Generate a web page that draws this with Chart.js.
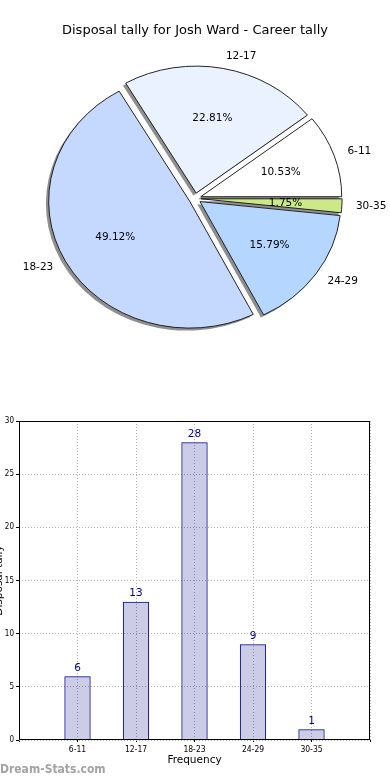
<!DOCTYPE html>
<html>
<head>
<meta charset="utf-8">
<script src="https://cdn.jsdelivr.net/npm/chart.js@4.4.0/dist/chart.umd.min.js"></script>
<style>
  body { margin: 0; background: #fff; width: 390px; height: 780px; position: relative; overflow: hidden; }
  #pieWrap { position: absolute; left: 0; top: 0; width: 390px; height: 397px; }
  #barWrap { position: absolute; left: 0; top: 400px; width: 390px; height: 380px; }
  #mark { position: absolute; left: 0; top: 762px; font: bold 12px 'DejaVu Sans Condensed', 'DejaVu Sans', sans-serif; color: #a3a3a3; }
</style>
</head>
<body>
<div id="pieWrap"><canvas id="pie"></canvas></div>
<div id="barWrap"><canvas id="bar"></canvas></div>
<div id="mark">Dream-Stats.com</div>
<script>
const categories = ['6-11', '12-17', '18-23', '24-29', '30-35'];
const tally = [6, 13, 28, 9, 1];
const pieColors = ['#ffffff', '#eaf1ff', '#c5d9ff', '#b4d6ff', '#cce98a'];
const yTicks = [0, 5, 10, 15, 20, 25, 30];

const total = tally.reduce((a, b) => a + b, 0);
const percents = tally.map(v => (v / total * 100).toFixed(2) + '%');

// matplotlib goes counter-clockwise from 3 o'clock, chart.js goes clockwise,
// so feed the slices backwards
const rev = a => a.slice().reverse();

const EXPLODE = 5.5;   // px
const SX = 1.11;       // the pie is an ellipse in the reference
const FONT = "'DejaVu Sans', sans-serif";

const piePlugin = {
  id: 'pieStuff',
  beforeDatasetsDraw(chart) {
    const ctx = chart.ctx;
    const a = chart.chartArea;
    const cx = (a.left + a.right) / 2, cy = (a.top + a.bottom) / 2;
    ctx.save();
    ctx.translate(cx, cy);
    ctx.scale(SX, 1);
    ctx.translate(-cx, -cy);
    const meta = chart.getDatasetMeta(0);
    // shadows first, under every wedge
    meta.data.forEach(arc => {
      const mid = (arc.startAngle + arc.endAngle) / 2;
      const ox = arc.x + Math.cos(mid) * EXPLODE - 2.5;
      const oy = arc.y + Math.sin(mid) * EXPLODE + 2.5;
      ctx.beginPath();
      ctx.moveTo(ox, oy);
      ctx.arc(ox, oy, arc.outerRadius, arc.startAngle, arc.endAngle);
      ctx.closePath();
      ctx.fillStyle = '#8f8f8f';
      ctx.fill();
      if (!arc._exploded) {
        const base = arc.draw;
        arc.draw = function (c) {
          const m = (this.startAngle + this.endAngle) / 2;
          c.save();
          c.translate(Math.cos(m) * EXPLODE, Math.sin(m) * EXPLODE);
          base.call(this, c);
          c.restore();
        };
        arc._exploded = true;
      }
    });
  },
  afterDatasetsDraw(chart) {
    const ctx = chart.ctx;
    ctx.restore();
    const a = chart.chartArea;
    const cx = (a.left + a.right) / 2;
    const meta = chart.getDatasetMeta(0);
    const labels = chart.data.labels;
    const pcts = rev(percents);
    ctx.save();
    ctx.fillStyle = '#000';
    ctx.textBaseline = 'middle';
    ctx.font = '10.5px ' + FONT;
    meta.data.forEach((arc, i) => {
      const mid = (arc.startAngle + arc.endAngle) / 2;
      const r = arc.outerRadius;
      let d = EXPLODE + 0.6 * r;
      let x = arc.x + Math.cos(mid) * d, y = arc.y + Math.sin(mid) * d;
      ctx.textAlign = 'center';
      ctx.fillText(pcts[i], cx + (x - cx) * SX, y);
      d = EXPLODE + 1.1 * r;
      x = arc.x + Math.cos(mid) * d; y = arc.y + Math.sin(mid) * d;
      ctx.textAlign = Math.cos(mid) >= 0 ? 'left' : 'right';
      ctx.fillText(labels[i], cx + (x - cx) * SX, y);
    });
    ctx.font = '13px ' + FONT;
    ctx.textAlign = 'center';
    ctx.fillText('Disposal tally for Josh Ward - Career tally', 195, 30.5);
    ctx.restore();
  }
};

new Chart(document.getElementById('pie'), {
  type: 'pie',
  data: {
    labels: rev(categories),
    datasets: [{
      data: rev(tally),
      backgroundColor: rev(pieColors),
      borderColor: '#1a1a1a',
      borderWidth: 0.9,
      clip: false,
      hoverOffset: 0
    }]
  },
  options: {
    responsive: true,
    maintainAspectRatio: false,
    animation: false,
    events: [],
    rotation: 90,
    radius: 127,
    layout: { padding: 0 },
    plugins: { legend: { display: false }, tooltip: { enabled: false } }
  },
  plugins: [piePlugin]
});

const barPlugin = {
  id: 'barStuff',
  afterDatasetsDraw(chart) {
    const ctx = chart.ctx;
    const meta = chart.getDatasetMeta(0);
    ctx.save();
    ctx.fillStyle = '#00008b';
    ctx.font = '10.5px ' + FONT;
    ctx.textAlign = 'center';
    ctx.textBaseline = 'alphabetic';
    meta.data.forEach((bar, i) => {
      ctx.fillText(String(tally[i]), bar.x, bar.y - 5.5);
    });
    ctx.restore();
  },
  afterDraw(chart) {
    const ctx = chart.ctx;
    const a = chart.chartArea;
    ctx.save();
    ctx.strokeStyle = '#000';
    ctx.lineWidth = 1;
    ctx.strokeRect(Math.round(a.left) + 0.5, Math.round(a.top) + 0.5,
      Math.round(a.right - a.left) - 1, Math.round(a.bottom - a.top) - 1);
    ctx.fillStyle = '#000';
    ctx.font = '10.5px ' + FONT;
    ctx.textAlign = 'center';
    ctx.textBaseline = 'middle';
    ctx.fillText('Frequency', (a.left + a.right) / 2, 360);
    // y title is mostly cut off at the left edge in the reference
    ctx.translate(2, (a.top + a.bottom) / 2);
    ctx.rotate(-Math.PI / 2);
    ctx.textBaseline = 'alphabetic';
    ctx.fillText('Disposal tally', 0, 0);
    ctx.restore();
  }
};

const tickFont = { family: "'DejaVu Sans Condensed', 'DejaVu Sans', sans-serif" };

new Chart(document.getElementById('bar'), {
  type: 'bar',
  data: {
    datasets: [{
      data: tally.map((v, i) => ({ x: i, y: v })),
      backgroundColor: 'rgba(0, 0, 128, 0.2)',
      borderColor: '#00008b',
      borderWidth: 1,
      barPercentage: 0.45,
      categoryPercentage: 1
    }]
  },
  options: {
    responsive: true,
    maintainAspectRatio: false,
    animation: false,
    events: [],
    layout: { padding: { top: 21, right: 20, left: 0, bottom: 0 } },
    plugins: { legend: { display: false }, tooltip: { enabled: false } },
    scales: {
      x: {
        type: 'linear',
        min: -1,
        max: 5,
        offset: false,
        afterFit: s => { s.height = 40; },
        ticks: {
          stepSize: 1,
          autoSkip: false,
          maxRotation: 0,
          padding: 3,
          color: '#000',
          font: { ...tickFont, size: 8.5 },
          callback: v => categories[v] ?? ''
        },
        grid: { offset: false, color: '#b0b0b0', drawTicks: true, tickLength: 2, tickColor: '#000', tickBorderDash: [] },
        border: { display: false, dash: [1, 2] }
      },
      y: {
        min: 0,
        max: 30,
        afterFit: s => { s.width = 19; },
        afterBuildTicks: s => { s.ticks = yTicks.map(v => ({ value: v })); },
        ticks: {
          padding: 2,
          color: '#000',
          font: { ...tickFont, size: 8 }
        },
        grid: { color: '#b0b0b0', drawTicks: true, tickLength: 3, tickColor: '#000', tickBorderDash: [] },
        border: { display: false, dash: [1, 2] }
      }
    }
  },
  plugins: [barPlugin]
});
</script>
</body>
</html>
